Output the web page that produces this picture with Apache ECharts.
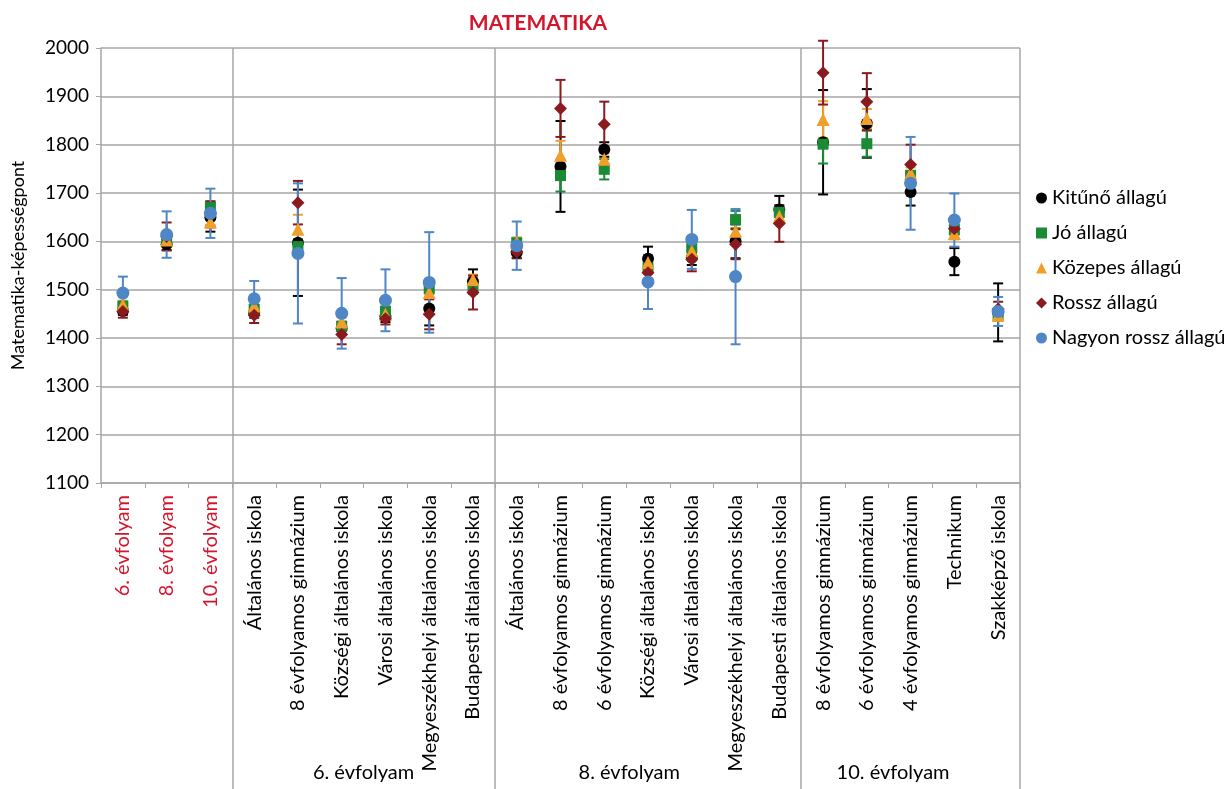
<!DOCTYPE html>
<html>
<head>
<meta charset="utf-8">
<script src="https://cdn.jsdelivr.net/npm/echarts@6/dist/echarts.min.js"></script>
<style>
  html, body { margin: 0; padding: 0; background: #fff; }
  #chart { width: 1227px; height: 789px; }
</style>
</head>
<body>
<div id="chart"></div>
<script>
const categories = [
  "6. évfolyam", "8. évfolyam", "10. évfolyam",
  "Általános iskola", "8 évfolyamos gimnázium", "Községi általános iskola",
  "Városi általános iskola", "Megyeszékhelyi általános iskola", "Budapesti általános iskola",
  "Általános iskola", "8 évfolyamos gimnázium", "6 évfolyamos gimnázium",
  "Községi általános iskola", "Városi általános iskola", "Megyeszékhelyi általános iskola",
  "Budapesti általános iskola",
  "8 évfolyamos gimnázium", "6 évfolyamos gimnázium", "4 évfolyamos gimnázium",
  "Technikum", "Szakképző iskola"
]
const groupLabels = ["6. évfolyam", "8. évfolyam", "10. évfolyam"]

// átlag és hibahatár (±) minden kategóriára
const kitunoMean = [1456, 1594, 1650, 1452, 1597, 1420, 1445, 1461, 1517, 1577, 1755, 1790, 1564, 1566, 1600, 1666, 1805, 1844, 1702, 1558, 1453]
const kitunoErr  = [8, 12, 30, 10, 110, 12, 12, 35, 25, 12, 94, 15, 25, 15, 35, 28, 108, 71, 28, 28, 60]
const joMean     = [1466, 1605, 1670, 1459, 1589, 1424, 1455, 1502, 1504, 1597, 1736, 1749, 1545, 1587, 1645, 1660, 1801, 1802, 1736, 1624, 1448]
const joErr      = [8, 10, 12, 10, 15, 10, 10, 10, 10, 10, 33, 21, 12, 12, 18, 10, 40, 27, 10, 10, 12]
const kozepesMean = [1469, 1603, 1640, 1466, 1625, 1433, 1449, 1494, 1521, 1598, 1778, 1770, 1556, 1580, 1621, 1652, 1852, 1854, 1741, 1616, 1447]
const kozepesErr  = [8, 10, 12, 10, 30, 10, 10, 12, 10, 10, 30, 12, 12, 12, 15, 10, 38, 20, 12, 12, 10]
const rosszMean  = [1455, 1610, 1658, 1447, 1680, 1407, 1440, 1449, 1494, 1578, 1875, 1842, 1535, 1563, 1594, 1637, 1949, 1889, 1759, 1626, 1460]
const rosszErr   = [13, 29, 25, 16, 45, 20, 12, 31, 35, 12, 59, 47, 15, 25, 31, 38, 66, 59, 41, 20, 15]
const nagyonMean = [1493, 1614, 1658, 1481, 1575, 1451, 1478, 1515, null, 1591, null, null, 1516, 1604, 1527, null, null, null, 1720, 1644, 1455]
const nagyonErr  = [34, 48, 51, 37, 145, 73, 64, 104, null, 50, null, null, 56, 61, 140, null, null, null, 96, 55, 30]

const seriesDefs = [
  { name: "Kitűnő állagú", mean: kitunoMean, err: kitunoErr, color: "#000000", symbol: "circle", size: 12 },
  { name: "Jó állagú", mean: joMean, err: joErr, color: "#1b8a35", symbol: "rect", size: 11 },
  { name: "Közepes állagú", mean: kozepesMean, err: kozepesErr, color: "#f0a02a", symbol: "triangle", size: 13 },
  { name: "Rossz állagú", mean: rosszMean, err: rosszErr, color: "#8b1a1e", symbol: "diamond", size: 13 },
  { name: "Nagyon rossz állagú", mean: nagyonMean, err: nagyonErr, color: "#4f86c6", symbol: "circle", size: 13 }
]

const gray = "#a6a6a6"
const font = "Lato, 'Open Sans', sans-serif"

function errorBars(def) {
  const data = def.mean.map((m, i) => m == null ? null : [i, m - def.err[i], m + def.err[i]]).filter(d => d)
  return {
    type: "custom",
    name: def.name,
    data: data,
    silent: true,
    renderItem: (params, api) => {
      const x = api.value(0)
      const lo = api.coord([x, api.value(1)])
      const hi = api.coord([x, api.value(2)])
      const w = 5
      const style = { stroke: def.color, lineWidth: 2 }
      return {
        type: "group",
        children: [
          { type: "line", shape: { x1: lo[0], y1: lo[1], x2: hi[0], y2: hi[1] }, style },
          { type: "line", shape: { x1: lo[0] - w, y1: lo[1], x2: lo[0] + w, y2: lo[1] }, style },
          { type: "line", shape: { x1: hi[0] - w, y1: hi[1], x2: hi[0] + w, y2: hi[1] }, style }
        ]
      }
    }
  }
}

const series = []
seriesDefs.forEach(def => {
  series.push(errorBars(def))
  series.push({
    type: "scatter",
    name: def.name,
    data: def.mean.map((m, i) => m == null ? null : [i, m]).filter(d => d),
    symbol: def.symbol,
    symbolSize: def.size,
    itemStyle: { color: def.color, opacity: 1 }
  })
})

const chart = echarts.init(document.getElementById("chart"))
chart.setOption({
  animation: false,
  textStyle: { fontFamily: font },
  title: {
    text: "MATEMATIKA",
    left: 533,
    textAlign: "center",
    top: 8,
    textStyle: { color: "#d4162c", fontSize: 21, fontWeight: "bold", fontFamily: font }
  },
  legend: {
    orient: "vertical",
    left: 1031,
    top: 183,
    itemGap: 15,
    itemWidth: 11,
    itemHeight: 11,
    textStyle: { fontSize: 20, color: "#000", fontFamily: font },
    data: seriesDefs.map(d => ({
      name: d.name,
      icon: d.symbol,
      itemStyle: { color: d.color }
    }))
  },
  grid: { left: 101, right: 207, top: 48, bottom: 306 },
  xAxis: [
    {
      type: "category",
      data: categories,
      boundaryGap: true,
      axisLine: { lineStyle: { color: gray, width: 1.5 } },
      axisTick: { show: true, length: 5, lineStyle: { color: gray } },
      splitLine: { show: false },
      axisLabel: {
        rotate: 90,
        interval: 0,
        margin: 12,
        fontSize: 20,
        fontFamily: font,
        color: (v, i) => i < 3 ? "#d4162c" : "#000"
      }
    },
    {
      type: "value",
      position: "top",
      min: 0,
      max: 21,
      axisLine: { show: false },
      splitLine: { show: false },
      axisLabel: { show: false },
      axisTick: {
        show: true,
        inside: true,
        length: 741,
        customValues: [3, 9, 16, 21],
        lineStyle: { color: gray, width: 1.5 }
      }
    },
    {
      type: "value",
      position: "bottom",
      min: 0,
      max: 21,
      axisLine: { show: false },
      splitLine: { show: false },
      axisTick: { show: false },
      axisLabel: {
        show: true,
        customValues: [6, 12.07, 18.1],
        margin: 280,
        fontSize: 20,
        fontFamily: font,
        color: "#000",
        formatter: v => v < 9 ? groupLabels[0] : v < 16 ? groupLabels[1] : groupLabels[2]
      }
    }
  ],
  yAxis: {
    type: "value",
    min: 1100,
    max: 2000,
    interval: 100,
    name: "Matematika-képességpont",
    nameLocation: "middle",
    nameGap: 74,
    nameTextStyle: { fontSize: 18, color: "#000", fontFamily: font },
    axisLine: { show: true, lineStyle: { color: gray, width: 1.5 } },
    axisTick: { show: true, length: 5, lineStyle: { color: gray } },
    splitLine: { show: true, lineStyle: { color: gray, width: 1.5 } },
    axisLabel: { fontSize: 19, color: "#000", margin: 12, fontFamily: font, formatter: v => String(v) }
  },
  series: series
})
</script>
</body>
</html>
